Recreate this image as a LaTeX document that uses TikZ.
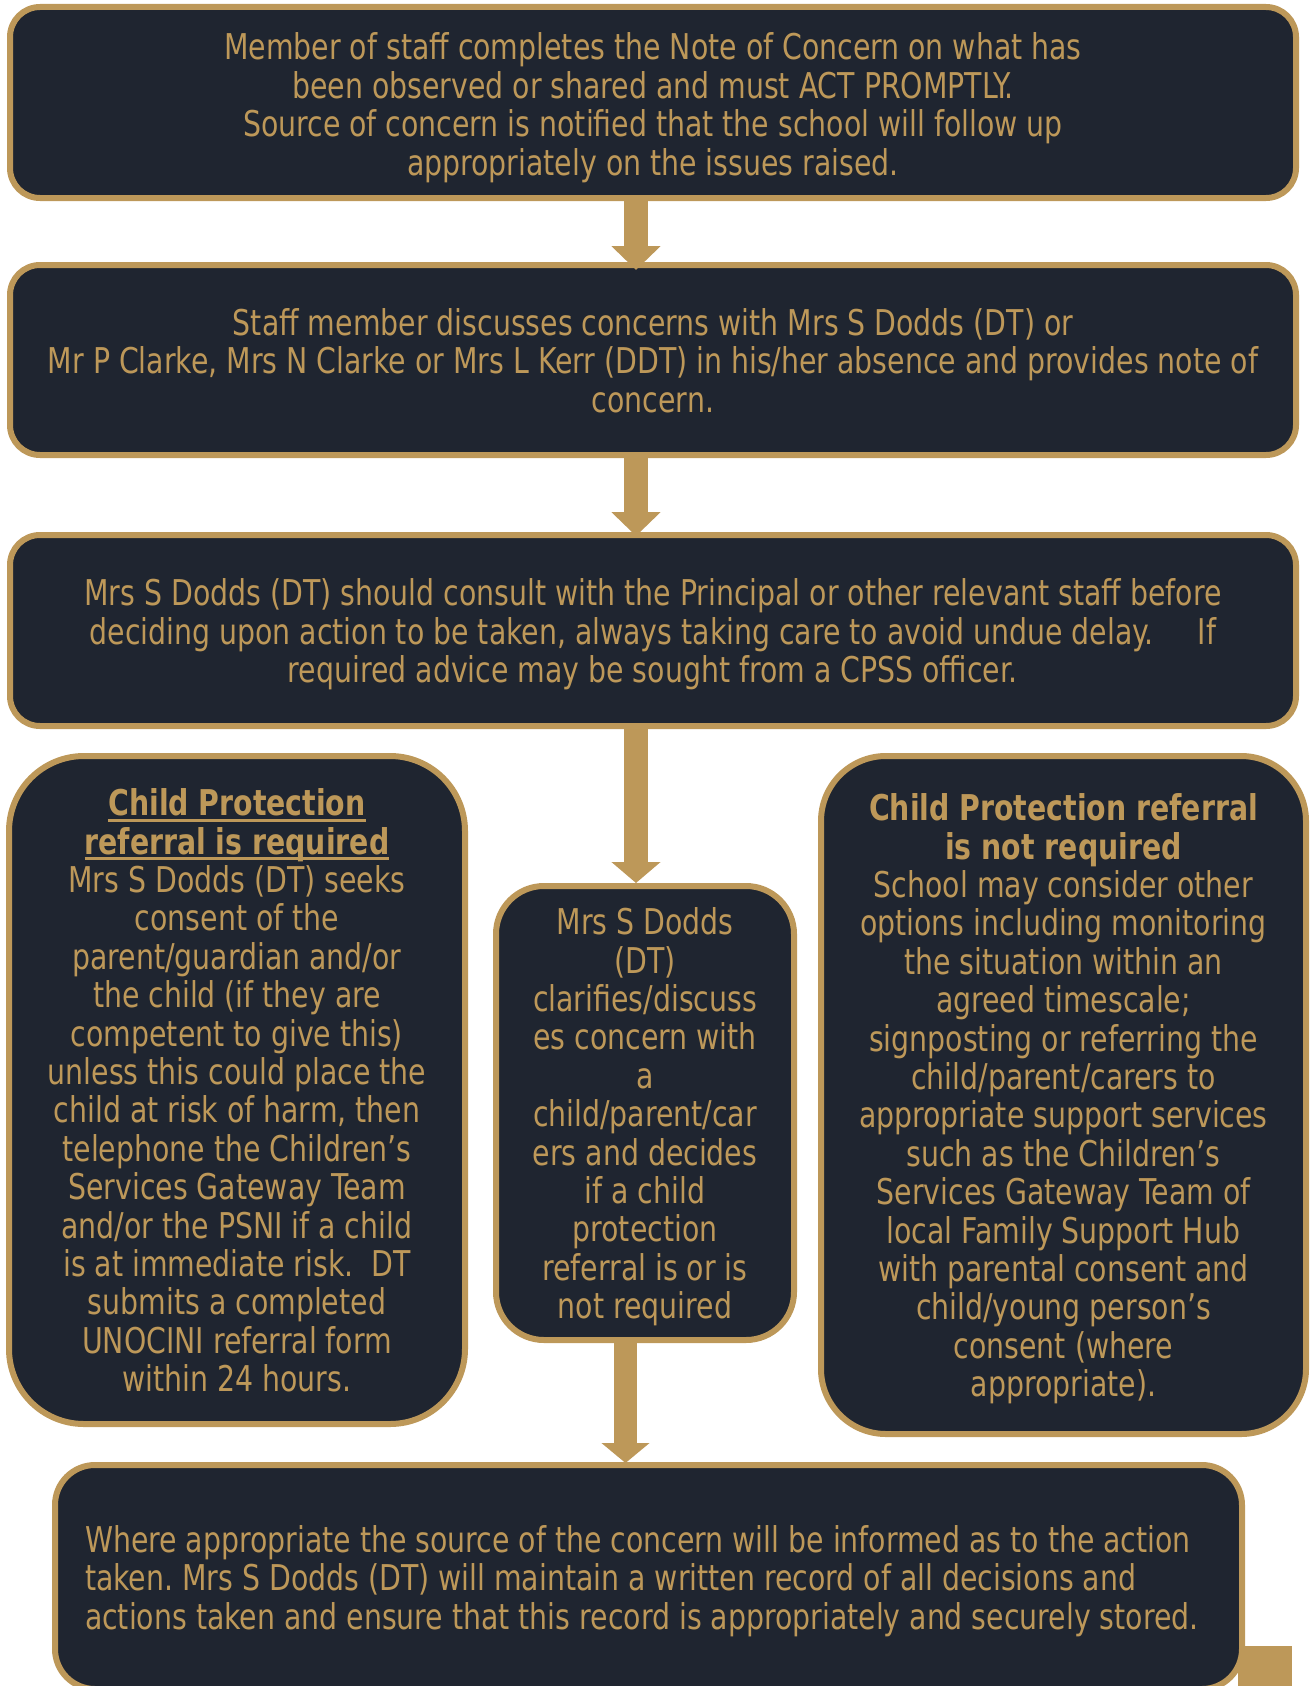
\documentclass[tikz,border=0pt]{standalone}
\usepackage{fontspec}
\setmainfont[FakeStretch=0.888]{DejaVu Sans Condensed}
\usetikzlibrary{arrows.meta}
\definecolor{gold}{RGB}{189,152,89}
\definecolor{navy}{RGB}{31,37,48}
\newcommand\myul[1]{\setbox0\hbox{#1}\rlap{\rule[-6pt]{\wd0}{3pt}}\box0}
\newcommand\botstrut{\rule[-9pt]{0pt}{9pt}}
\newcommand\tp{\rule{0pt}{36.5pt}}
\frenchspacing
\hyphenpenalty=10000
\begin{document}
\begin{tikzpicture}[x=1pt,y=-1pt,
  box/.style={draw=gold, fill=navy, line width=6pt, text=gold, align=center, inner sep=0pt,
    font=\fontsize{35.5}{38.4}\selectfont, execute at end node=\botstrut},
  flow/.style={draw=gold, line width=24pt, -{Triangle[width=48pt,length=24pt]}}]
\useasboundingbox (0,0) rectangle (1311,1686);
\fill[gold] (1238,1646) rectangle (1292,1700);

\node[box, minimum width=1286pt, minimum height=191pt, rounded corners=30pt] (b1) at (653,102.5)
 {\rule{0pt}{38.8pt}Member of staff completes the Note of Concern on what has\\
  been observed or shared and must ACT PROMPTLY.\\
  Source of concern is notified that the school will follow up\\
  appropriately on the issues raised.};

\node[box, minimum width=1286pt, minimum height=190pt, rounded corners=30pt] (b2) at (653,360)
 {\tp Staff member discusses concerns with Mrs S Dodds (DT) or\\
  Mr P Clarke, Mrs N Clarke or Mrs L Kerr (DDT) in his/her absence and provides note of\\
  concern.};

\node[box, minimum width=1286pt, minimum height=191pt, rounded corners=30pt] (b3) at (653,630.5)
 {\tp Mrs S Dodds (DT) should consult with the Principal or other relevant staff before\\
  deciding upon action to be taken, always taking care to avoid undue delay.\hspace{44pt}If\\
  required advice may be sought from a CPSS officer.};

\node[box, minimum width=456pt, minimum height=668pt, rounded corners=75pt] (left) at (237,1090)
 {\tp\textbf{\myul{Child Protection}}\\
  \textbf{\myul{referral is required}}\\
  Mrs S Dodds (DT) seeks\\
  consent of the\\
  parent/guardian and/or\\
  the child (if they are\\
  competent to give this)\\
  unless this could place the\\
  child at risk of harm, then\\
  telephone the Children’s\\
  Services Gateway Team\\
  and/or the PSNI if a child\\
  is at immediate risk.\ \ DT\\
  submits a completed\\
  UNOCINI referral form\\
  within 24 hours.};

\node[box, minimum width=298pt, minimum height=454pt, rounded corners=48pt] (mid) at (645,1113)
 {\tp Mrs S Dodds\\
  (DT)\\
  clarifies/discuss\\
  es concern with\\
  a\\
  child/parent/car\\
  ers and decides\\
  if a child\\
  protection\\
  referral is or is\\
  not required};

\node[box, minimum width=485pt, minimum height=678pt, rounded corners=65pt] (right) at (1063.5,1095)
 {\tp\textbf{Child Protection referral}\\
  \textbf{is not required}\\
  School may consider other\\
  options including monitoring\\
  the situation within an\\
  agreed timescale;\\
  signposting or referring the\\
  child/parent/carers to\\
  appropriate support services\\
  such as the Children’s\\
  Services Gateway Team of\\
  local Family Support Hub\\
  with parental consent and\\
  child/young person’s\\
  consent (where\\
  appropriate).};

\node[box, align=flush left, text width=1127pt, minimum width=1187pt, minimum height=224pt, rounded corners=40pt] (b4) at (648.5,1577)
 {\tp Where appropriate the source of the concern will be informed as to the action\\
  taken. Mrs S Dodds (DT) will maintain a written record of all decisions and\\
  actions taken and ensure that this record is appropriately and securely stored.};

\coordinate (ax) at (636,0);
\coordinate (ax2) at (625.5,0);
\draw[flow, shorten >=-8pt] (b1.south -| ax) -- (b2.north -| ax);
\draw[flow, shorten >=-4pt] (b2.south -| ax) -- (b3.north -| ax);
\draw[flow, -{Triangle[width=48pt,length=21pt]}] (b3.south -| ax) -- (mid.north -| ax);
\draw[flow, line width=23pt, -{Triangle[width=47pt,length=20pt]}, shorten >=-1pt] (mid.south -| ax2) -- (b4.north -| ax2);
\end{tikzpicture}
\end{document}
